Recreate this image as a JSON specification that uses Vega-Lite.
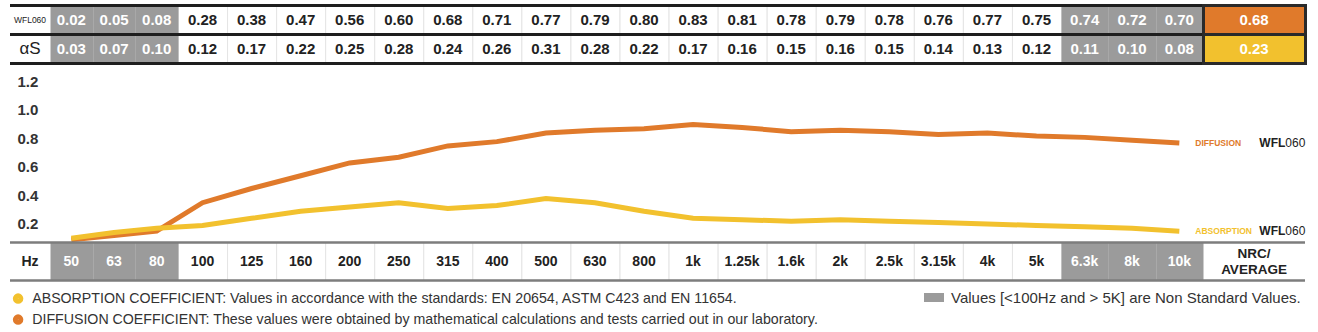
{
  "$schema": "https://vega.github.io/schema/vega-lite/v6.json",
  "padding": {"top": 3.5, "left": 0, "right": 0, "bottom": 0},
  "background": "white",
  "spacing": 0,
  "bounds": "flush",
  "config": {"view": {"stroke": null}, "font": "Liberation Sans"},
  "datasets": {
    "cells": [
      {"i": 0, "freq": "50", "kind": "non-standard", "series": "DIFFUSION", "value": 0.02},
      {"i": 1, "freq": "63", "kind": "non-standard", "series": "DIFFUSION", "value": 0.05},
      {"i": 2, "freq": "80", "kind": "non-standard", "series": "DIFFUSION", "value": 0.08},
      {"i": 3, "freq": "100", "kind": "standard", "series": "DIFFUSION", "value": 0.28},
      {"i": 4, "freq": "125", "kind": "standard", "series": "DIFFUSION", "value": 0.38},
      {"i": 5, "freq": "160", "kind": "standard", "series": "DIFFUSION", "value": 0.47},
      {"i": 6, "freq": "200", "kind": "standard", "series": "DIFFUSION", "value": 0.56},
      {"i": 7, "freq": "250", "kind": "standard", "series": "DIFFUSION", "value": 0.60},
      {"i": 8, "freq": "315", "kind": "standard", "series": "DIFFUSION", "value": 0.68},
      {"i": 9, "freq": "400", "kind": "standard", "series": "DIFFUSION", "value": 0.71},
      {"i": 10, "freq": "500", "kind": "standard", "series": "DIFFUSION", "value": 0.77},
      {"i": 11, "freq": "630", "kind": "standard", "series": "DIFFUSION", "value": 0.79},
      {"i": 12, "freq": "800", "kind": "standard", "series": "DIFFUSION", "value": 0.80},
      {"i": 13, "freq": "1k", "kind": "standard", "series": "DIFFUSION", "value": 0.83},
      {"i": 14, "freq": "1.25k", "kind": "standard", "series": "DIFFUSION", "value": 0.81},
      {"i": 15, "freq": "1.6k", "kind": "standard", "series": "DIFFUSION", "value": 0.78},
      {"i": 16, "freq": "2k", "kind": "standard", "series": "DIFFUSION", "value": 0.79},
      {"i": 17, "freq": "2.5k", "kind": "standard", "series": "DIFFUSION", "value": 0.78},
      {"i": 18, "freq": "3.15k", "kind": "standard", "series": "DIFFUSION", "value": 0.76},
      {"i": 19, "freq": "4k", "kind": "standard", "series": "DIFFUSION", "value": 0.77},
      {"i": 20, "freq": "5k", "kind": "standard", "series": "DIFFUSION", "value": 0.75},
      {"i": 21, "freq": "6.3k", "kind": "non-standard", "series": "DIFFUSION", "value": 0.74},
      {"i": 22, "freq": "8k", "kind": "non-standard", "series": "DIFFUSION", "value": 0.72},
      {"i": 23, "freq": "10k", "kind": "non-standard", "series": "DIFFUSION", "value": 0.70},
      {"i": 24, "freq": "NRC/\nAVERAGE", "kind": "nrc", "series": "DIFFUSION", "value": 0.68},
      {"i": 0, "freq": "50", "kind": "non-standard", "series": "ABSORPTION", "value": 0.03},
      {"i": 1, "freq": "63", "kind": "non-standard", "series": "ABSORPTION", "value": 0.07},
      {"i": 2, "freq": "80", "kind": "non-standard", "series": "ABSORPTION", "value": 0.10},
      {"i": 3, "freq": "100", "kind": "standard", "series": "ABSORPTION", "value": 0.12},
      {"i": 4, "freq": "125", "kind": "standard", "series": "ABSORPTION", "value": 0.17},
      {"i": 5, "freq": "160", "kind": "standard", "series": "ABSORPTION", "value": 0.22},
      {"i": 6, "freq": "200", "kind": "standard", "series": "ABSORPTION", "value": 0.25},
      {"i": 7, "freq": "250", "kind": "standard", "series": "ABSORPTION", "value": 0.28},
      {"i": 8, "freq": "315", "kind": "standard", "series": "ABSORPTION", "value": 0.24},
      {"i": 9, "freq": "400", "kind": "standard", "series": "ABSORPTION", "value": 0.26},
      {"i": 10, "freq": "500", "kind": "standard", "series": "ABSORPTION", "value": 0.31},
      {"i": 11, "freq": "630", "kind": "standard", "series": "ABSORPTION", "value": 0.28},
      {"i": 12, "freq": "800", "kind": "standard", "series": "ABSORPTION", "value": 0.22},
      {"i": 13, "freq": "1k", "kind": "standard", "series": "ABSORPTION", "value": 0.17},
      {"i": 14, "freq": "1.25k", "kind": "standard", "series": "ABSORPTION", "value": 0.16},
      {"i": 15, "freq": "1.6k", "kind": "standard", "series": "ABSORPTION", "value": 0.15},
      {"i": 16, "freq": "2k", "kind": "standard", "series": "ABSORPTION", "value": 0.16},
      {"i": 17, "freq": "2.5k", "kind": "standard", "series": "ABSORPTION", "value": 0.15},
      {"i": 18, "freq": "3.15k", "kind": "standard", "series": "ABSORPTION", "value": 0.14},
      {"i": 19, "freq": "4k", "kind": "standard", "series": "ABSORPTION", "value": 0.13},
      {"i": 20, "freq": "5k", "kind": "standard", "series": "ABSORPTION", "value": 0.12},
      {"i": 21, "freq": "6.3k", "kind": "non-standard", "series": "ABSORPTION", "value": 0.11},
      {"i": 22, "freq": "8k", "kind": "non-standard", "series": "ABSORPTION", "value": 0.10},
      {"i": 23, "freq": "10k", "kind": "non-standard", "series": "ABSORPTION", "value": 0.08},
      {"i": 24, "freq": "NRC/\nAVERAGE", "kind": "nrc", "series": "ABSORPTION", "value": 0.23}
    ],
    "heads": [
      {"i": -1, "series": "DIFFUSION", "label": "WFL060"},
      {"i": -1, "series": "ABSORPTION", "label": "αS"}
    ]
  },
  "vconcat": [
    {
      "width": 1318,
      "height": 58,
      "data": {"name": "cells"},
      "layer": [
        {
          "transform": [{"filter": "datum.kind === 'standard'"}],
          "mark": {"type": "rect", "fill": "white", "stroke": "#e4e4e4", "strokeWidth": 1},
          "encoding": {
            "x": {"field": "i", "type": "quantitative", "bin": {"step": 1, "extent": [-0.5, 24.5], "nice": false}, "scale": {"domain": [-1.5, -0.5, 2.5, 20.5, 23.5, 24.5], "range": [10, 50, 178, 1061, 1203, 1305], "nice": false, "zero": false}, "axis": null},
            "y": {"field": "series", "type": "nominal", "scale": {"domain": ["DIFFUSION", "ABSORPTION"], "paddingInner": 0, "paddingOuter": 0}, "axis": null}
          }
        },
        {
          "transform": [{"filter": "datum.kind === 'non-standard'"}],
          "mark": {"type": "rect", "fill": "#9b9b9b"},
          "encoding": {
            "x": {"field": "i", "type": "quantitative", "bin": {"step": 1, "extent": [-0.5, 24.5], "nice": false}, "axis": null},
            "y": {"field": "series", "type": "nominal", "axis": null}
          }
        },
        {
          "data": {"name": "heads"},
          "mark": {"type": "rule", "color": "#1e1e1e", "strokeWidth": 3},
          "encoding": {
            "y": {"field": "series", "type": "nominal", "bandPosition": 0, "axis": null},
            "x": {"datum": -1.5, "type": "quantitative", "axis": null},
            "x2": {"datum": 24.5}
          }
        },
        {
          "data": {"name": "heads"},
          "transform": [{"filter": "datum.series === 'ABSORPTION'"}],
          "mark": {"type": "rule", "color": "#1e1e1e", "strokeWidth": 3},
          "encoding": {
            "y": {"field": "series", "type": "nominal", "bandPosition": 1, "axis": null},
            "x": {"datum": -1.5, "type": "quantitative", "axis": null},
            "x2": {"datum": 24.5}
          }
        },
        {
          "transform": [{"filter": "datum.kind === 'nrc'"}],
          "mark": {"type": "rect", "stroke": "#2a2a2a", "strokeWidth": 3},
          "encoding": {
            "x": {"field": "i", "type": "quantitative", "bin": {"step": 1, "extent": [-0.5, 24.5], "nice": false}, "axis": null},
            "y": {"field": "series", "type": "nominal", "axis": null},
            "fill": {"condition": {"test": "datum.series === 'DIFFUSION'", "value": "#e07a2b"}, "value": "#f2c12e"}
          }
        },
        {
          "mark": {"type": "text", "fontSize": 15, "fontWeight": "bold", "font": "Liberation Sans"},
          "encoding": {
            "x": {"field": "i", "type": "quantitative", "axis": null},
            "y": {"field": "series", "type": "nominal", "axis": null},
            "text": {"field": "value", "type": "quantitative", "format": ".2f"},
            "color": {"condition": {"test": "datum.kind === 'standard'", "value": "#222222"}, "value": "#ffffff"}
          }
        },
        {
          "data": {"name": "heads"},
          "mark": {"type": "text", "font": "Liberation Sans", "color": "#222"},
          "encoding": {
            "x": {"field": "i", "type": "quantitative", "axis": null},
            "y": {"field": "series", "type": "nominal", "axis": null},
            "text": {"field": "label"},
            "size": {"condition": {"test": "datum.series === 'DIFFUSION'", "value": 8.5}, "value": 17},
            "fontWeight": {"condition": {"test": "datum.series === 'DIFFUSION'", "value": "bold"}, "value": "normal"}
          }
        }
      ]
    },
    {
      "width": 1318,
      "height": 179,
      "data": {"name": "cells"},
      "transform": [{"filter": "datum.kind !== 'nrc'"}],
      "encoding": {
        "x": {"field": "i", "type": "quantitative", "scale": {"domain": [-1.5, -0.5, 2.5, 20.5, 23.5, 24.5], "range": [10, 50, 178, 1061, 1203, 1305], "nice": false, "zero": false}, "axis": null},
        "y": {"field": "value", "type": "quantitative", "scale": {"domain": [0, 1.26], "nice": false, "zero": false},
          "axis": {"values": [0.2, 0.4, 0.6, 0.8, 1.0, 1.2], "format": ".1f", "title": null, "domain": false, "ticks": false, "grid": false, "labelAlign": "left", "labelPadding": -17, "labelOffset": 9.5, "labelFont": "Liberation Sans", "labelFontSize": 15, "labelFontWeight": "bold", "labelColor": "#333333"}}
      },
      "layer": [
        {
          "mark": {"type": "line", "strokeWidth": 5},
          "encoding": {
            "stroke": {"field": "series", "type": "nominal", "scale": {"domain": ["ABSORPTION", "DIFFUSION"], "range": ["#f2c12e", "#e07a2b"]},
              "legend": {"orient": "none", "legendX": 11, "legendY": 286, "title": null, "symbolType": "circle", "symbolSize": 30, "symbolStrokeWidth": 5, "labelFont": "Liberation Sans", "labelFontSize": 14.2, "labelColor": "#333333", "labelLimit": 2000, "rowPadding": -5, "labelOffset": 7,
                "labelExpr": "datum.label === 'ABSORPTION' ? 'ABSORPTION COEFFICIENT: Values in accordance with the standards: EN 20654, ASTM C423 and EN 11654.' : 'DIFFUSION COEFFICIENT: These values were obtained by mathematical calculations and tests carried out in our laboratory.'"}}
          }
        },
        {
          "transform": [{"filter": "datum.i === 23"}],
          "mark": {"type": "text", "align": "left", "dx": 16, "fontSize": 8.5, "fontWeight": "bold", "font": "Liberation Sans"},
          "encoding": {
            "text": {"field": "series"},
            "color": {"condition": {"test": "datum.series === 'DIFFUSION'", "value": "#e07a2b"}, "value": "#f2c12e"}
          }
        },
        {
          "transform": [{"filter": "datum.i === 23"}],
          "mark": {"type": "text", "align": "right", "dx": 106, "fontSize": 12, "fontWeight": "bold", "font": "Liberation Sans", "color": "#222"},
          "encoding": {
            "text": {"value": "WFL"}
          }
        },
        {
          "transform": [{"filter": "datum.i === 23"}],
          "mark": {"type": "text", "align": "left", "dx": 106, "fontSize": 12, "font": "Liberation Sans", "color": "#222"},
          "encoding": {
            "text": {"value": "060"}
          }
        }
      ]
    },
    {
      "width": 1318,
      "height": 38,
      "data": {"name": "cells"},
      "transform": [{"filter": "datum.series === 'DIFFUSION'"}],
      "layer": [
        {
          "transform": [{"filter": "datum.kind === 'standard'"}],
          "mark": {"type": "rect", "fill": "white", "stroke": "#e4e4e4", "strokeWidth": 1},
          "encoding": {
            "x": {"field": "i", "type": "quantitative", "bin": {"step": 1, "extent": [-0.5, 24.5], "nice": false}, "scale": {"domain": [-1.5, -0.5, 2.5, 20.5, 23.5, 24.5], "range": [10, 50, 178, 1061, 1203, 1305], "nice": false, "zero": false}, "axis": null}
          }
        },
        {
          "transform": [{"filter": "datum.kind === 'non-standard'"}],
          "mark": {"type": "rect"},
          "encoding": {
            "x": {"field": "i", "type": "quantitative", "bin": {"step": 1, "extent": [-0.5, 24.5], "nice": false}, "axis": null},
            "fill": {"field": "kind", "type": "nominal", "scale": {"domain": ["non-standard"], "range": ["#9b9b9b"]},
              "legend": {"orient": "none", "legendX": 924, "legendY": 282, "title": null, "symbolType": "M-1,-0.45H1V0.45H-1Z", "symbolSize": 400, "symbolStrokeWidth": 0, "labelFont": "Liberation Sans", "labelFontSize": 15, "labelColor": "#333333", "labelLimit": 2000, "labelOffset": 7,
                "labelExpr": "'Values [<100Hz and > 5K] are Non Standard Values.'"}}
          }
        },
        {
          "transform": [{"filter": "datum.i === 0"}],
          "mark": {"type": "rule", "color": "#7d7d7d", "strokeWidth": 2.5},
          "encoding": {
            "y": {"datum": 1, "type": "quantitative", "scale": {"domain": [0, 1], "nice": false}, "axis": null},
            "x": {"datum": -1.5, "type": "quantitative", "axis": null},
            "x2": {"datum": 24.5}
          }
        },
        {
          "transform": [{"filter": "datum.i === 0"}],
          "mark": {"type": "rule", "color": "#7d7d7d", "strokeWidth": 2.5},
          "encoding": {
            "y": {"datum": 0, "type": "quantitative", "axis": null},
            "x": {"datum": -1.5, "type": "quantitative", "axis": null},
            "x2": {"datum": 24.5}
          }
        },
        {
          "transform": [{"filter": "datum.kind !== 'nrc'"}],
          "mark": {"type": "text", "fontSize": 14, "fontWeight": "bold", "font": "Liberation Sans"},
          "encoding": {
            "x": {"field": "i", "type": "quantitative", "axis": null},
            "y": {"datum": 0.5, "type": "quantitative", "axis": null},
            "text": {"field": "freq"},
            "color": {"condition": {"test": "datum.kind === 'non-standard'", "value": "#ffffff"}, "value": "#222222"}
          }
        },
        {
          "transform": [{"filter": "datum.kind === 'nrc'"}],
          "mark": {"type": "text", "fontSize": 13.5, "fontWeight": "bold", "font": "Liberation Sans", "lineBreak": "\n", "lineHeight": 16, "dy": -8, "color": "#222222"},
          "encoding": {
            "x": {"field": "i", "type": "quantitative", "axis": null},
            "y": {"datum": 0.5, "type": "quantitative", "axis": null},
            "text": {"field": "freq"}
          }
        },
        {
          "data": {"values": [{"i": -1, "label": "Hz"}]},
          "mark": {"type": "text", "fontSize": 14, "fontWeight": "bold", "font": "Liberation Sans", "color": "#222222"},
          "encoding": {
            "x": {"field": "i", "type": "quantitative", "axis": null},
            "y": {"datum": 0.5, "type": "quantitative", "axis": null},
            "text": {"field": "label"}
          }
        }
      ]
    }
  ]
}
